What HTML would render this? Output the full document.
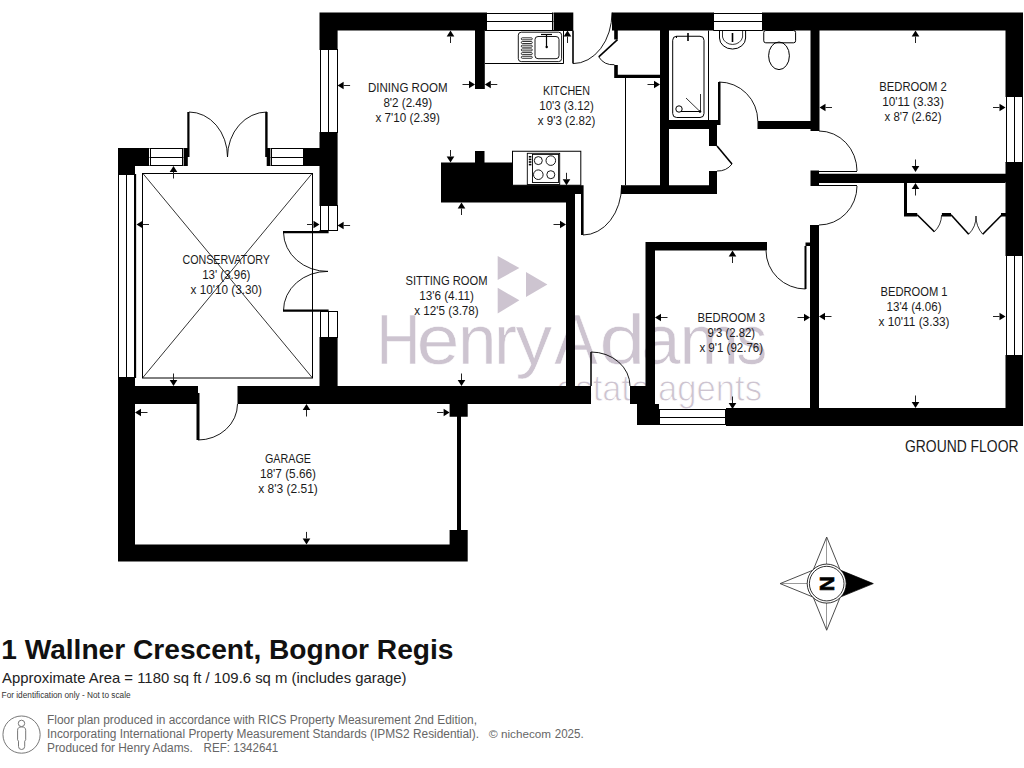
<!DOCTYPE html>
<html><head><meta charset="utf-8"><title>1 Wallner Crescent, Bognor Regis - Floor Plan</title>
<style>
html,body{margin:0;padding:0;background:#fff;}
body{width:1024px;height:768px;overflow:hidden;position:relative;font-family:"Liberation Sans",sans-serif;}
svg{position:absolute;left:0;top:0;}
svg text{font-family:"Liberation Sans",sans-serif;}
.t{position:absolute;white-space:nowrap;margin:0;}
</style></head><body>
<svg width="1024" height="768" viewBox="0 0 1024 768">
<text x="0" y="364" transform="matrix(0.8585 0 0 1 376.41 0)" font-size="71" fill="#cdc4d0" stroke="#fff" stroke-width="0.6">H</text>
<text x="0" y="364" transform="matrix(1.0912 0 0 1 416.53 0)" font-size="71" fill="#cdc4d0" stroke="#fff" stroke-width="0.6">e</text>
<text x="0" y="364" transform="matrix(0.9742 0 0 1 457.90 0)" font-size="71" fill="#cdc4d0" stroke="#fff" stroke-width="0.6">n</text>
<text x="0" y="364" transform="matrix(0.9737 0 0 1 494.11 0)" font-size="71" fill="#cdc4d0" stroke="#fff" stroke-width="0.6">r</text>
<text x="0" y="364" transform="matrix(1.0306 0 0 1 515.50 0)" font-size="71" fill="#cdc4d0" stroke="#fff" stroke-width="0.6">y</text>
<text x="0" y="364" transform="matrix(0.9167 0 0 1 554.30 0)" font-size="71" fill="#cdc4d0" stroke="#fff" stroke-width="0.6">A</text>
<text x="0" y="364" transform="matrix(1.1697 0 0 1 599.26 0)" font-size="71" fill="#cdc4d0" stroke="#fff" stroke-width="0.6">d</text>
<text x="0" y="364" transform="matrix(0.9865 0 0 1 641.54 0)" font-size="71" fill="#cdc4d0" stroke="#fff" stroke-width="0.6">a</text>
<text x="0" y="364" transform="matrix(1.0118 0 0 1 679.15 0)" font-size="71" fill="#cdc4d0" stroke="#fff" stroke-width="0.6">m</text>
<text x="0" y="364" transform="matrix(0.8719 0 0 1 736.13 0)" font-size="71" fill="#cdc4d0" stroke="#fff" stroke-width="0.6">s</text>
<text x="556.5" y="400.5" font-size="37" fill="#cdc4d0" stroke="#fff" stroke-width="0.9" textLength="93.5" lengthAdjust="spacingAndGlyphs">estate</text>
<text x="658" y="400.5" font-size="37" fill="#cdc4d0" stroke="#fff" stroke-width="0.9" textLength="104" lengthAdjust="spacingAndGlyphs">agents</text>
<path d="M497.7 255.9 L519.4 268 L497.7 280.1 Z" fill="#cdc4d0"/>
<path d="M526 271.9 L547.4 284.5 L526 297 Z" fill="#cdc4d0"/>
<path d="M497.7 287.8 L519.4 300.3 L497.7 313.4 Z" fill="#cdc4d0"/>
<rect x="142.5" y="173.5" width="170" height="204.5" fill="none" stroke="#000" stroke-width="1"/>
<line x1="142.5" y1="173" x2="312.5" y2="378" stroke="#000" stroke-width="0.8"/>
<line x1="312.5" y1="173" x2="142.5" y2="378" stroke="#000" stroke-width="0.8"/>
<path fill="#000" d="M118 148H149V166H118ZM183.4 148H187.8V166H183.4ZM266.7 148H270.6V166H266.7ZM304 148H337.6V166H304ZM187.3 112H189.5V157H187.3ZM265.2 112H267.6V157H265.2ZM118 148H135V174H118ZM118 377.5H135V561.5H118ZM118 386H198V404H118ZM237.5 386H591V404H237.5ZM196.5 393H199.5V440H196.5ZM118 544.4H467.7V561.5H118ZM449.6 404H467.7V416.8H449.6ZM449.6 530H467.7V561.5H449.6ZM457 416.8H461V530H457ZM319.5 12.5H337.6V49H319.5ZM319.5 133H337.6V205H319.5ZM319.5 338H337.6V386H319.5ZM283 231H328.6V233.2H283ZM283 309.5H328.6V311.7H283ZM319.5 12.5H486V30.5H319.5ZM475 30.5H484.8V89.1H475ZM553.4 12.5H573.3V30.5H553.4ZM612 12.5H713.3V30.5H612ZM614.2 30.5H617.8V39.6H614.2ZM614.2 65.1H617.8V78H614.2ZM614.2 74.7H660V78H614.2ZM660 30.5H669V194H660ZM669 120H717V129H669ZM708.6 120H720.5V125H708.6ZM709 129H717V146H709ZM709 171H717V194H709ZM621 185.3H717V194H621ZM762.8 12.5H1023V30.5H762.8ZM718 82H720.5V121H718ZM757.5 121H810.5V129H757.5ZM810.5 30.5H819.5V131H810.5ZM1005.5 12.5H1023V96H1005.5ZM1005.5 162.5H1023V255H1005.5ZM1005.5 356H1023V426H1005.5ZM810.5 170.5H819V186H810.5ZM819 173.75H1005.5V183H819ZM904 183H907V216.6H904ZM904 212.9H917.2V216.6H904ZM941.9 212.9H951V216.6H941.9ZM1001 212.9H1005.5V216.6H1001ZM810 225H819V408H810ZM805.5 242.5H810V246H805.5ZM804.5 246H806.5V289H804.5ZM645.5 242H767V250.5H645.5ZM645.5 242H655V386H645.5ZM630 386H655V404H630ZM637 404H659V425H637ZM726 408H1023V426H726ZM441 162.5H512.5V202.5H441ZM475 151H484.5V162.5H475ZM512.5 185.3H575V202.5H512.5ZM566 202.5H575V386H566ZM575 185.3H583.6V194H575ZM581 194H583.6V235H581Z"/>
<rect x="149.5" y="148" width="33.9" height="18" fill="#fff"/>
<line x1="149.5" y1="148.5" x2="183.4" y2="148.5" stroke="#000" stroke-width="1"/>
<line x1="149.5" y1="157.5" x2="183.4" y2="157.5" stroke="#000" stroke-width="1"/>
<line x1="149.5" y1="165.5" x2="183.4" y2="165.5" stroke="#000" stroke-width="1"/>
<line x1="150.5" y1="148" x2="150.5" y2="166" stroke="#000" stroke-width="1"/>
<line x1="182.5" y1="148" x2="182.5" y2="166" stroke="#000" stroke-width="1"/>
<rect x="270.6" y="148" width="33.4" height="18" fill="#fff"/>
<line x1="270.6" y1="148.5" x2="304" y2="148.5" stroke="#000" stroke-width="1"/>
<line x1="270.6" y1="157.5" x2="304" y2="157.5" stroke="#000" stroke-width="1"/>
<line x1="270.6" y1="165.5" x2="304" y2="165.5" stroke="#000" stroke-width="1"/>
<line x1="271.5" y1="148" x2="271.5" y2="166" stroke="#000" stroke-width="1"/>
<line x1="303.5" y1="148" x2="303.5" y2="166" stroke="#000" stroke-width="1"/>
<path d="M189 112 A38.5 45 0 0 1 227.5 157" stroke="#000" stroke-width="0.9" fill="none"/>
<path d="M267 112 A39.5 45 0 0 0 227.5 157" stroke="#000" stroke-width="0.9" fill="none"/>
<rect x="118" y="174" width="17" height="203.5" fill="#fff"/>
<line x1="118.5" y1="174" x2="118.5" y2="377.5" stroke="#000" stroke-width="1"/>
<line x1="126.5" y1="174" x2="126.5" y2="377.5" stroke="#000" stroke-width="1"/>
<line x1="134.5" y1="174" x2="134.5" y2="377.5" stroke="#000" stroke-width="1"/>
<line x1="118" y1="174.5" x2="135" y2="174.5" stroke="#000" stroke-width="1"/>
<line x1="118" y1="377.5" x2="135" y2="377.5" stroke="#000" stroke-width="1"/>
<line x1="135.5" y1="174" x2="135.5" y2="378" stroke="#000" stroke-width="1.3"/>
<path d="M198 440 A39.5 36 0 0 0 237.5 404" stroke="#000" stroke-width="0.9" fill="none"/>
<rect x="319.5" y="49" width="18.1" height="84" fill="#fff"/>
<line x1="320.5" y1="49" x2="320.5" y2="133" stroke="#000" stroke-width="1"/>
<line x1="328.5" y1="49" x2="328.5" y2="133" stroke="#000" stroke-width="1"/>
<line x1="337.5" y1="49" x2="337.5" y2="133" stroke="#000" stroke-width="1"/>
<line x1="319.5" y1="49.5" x2="337.6" y2="49.5" stroke="#000" stroke-width="1"/>
<line x1="319.5" y1="132.5" x2="337.6" y2="132.5" stroke="#000" stroke-width="1"/>
<rect x="319.5" y="205" width="18.1" height="26" fill="#fff"/>
<line x1="320.5" y1="205" x2="320.5" y2="231" stroke="#000" stroke-width="1"/>
<line x1="328.5" y1="205" x2="328.5" y2="231" stroke="#000" stroke-width="1"/>
<line x1="337.5" y1="205" x2="337.5" y2="231" stroke="#000" stroke-width="1"/>
<line x1="319.5" y1="205.5" x2="337.6" y2="205.5" stroke="#000" stroke-width="1"/>
<line x1="319.5" y1="230.5" x2="337.6" y2="230.5" stroke="#000" stroke-width="1"/>
<rect x="319.5" y="311" width="18.1" height="27" fill="#fff"/>
<line x1="320.5" y1="311" x2="320.5" y2="338" stroke="#000" stroke-width="1"/>
<line x1="328.5" y1="311" x2="328.5" y2="338" stroke="#000" stroke-width="1"/>
<line x1="337.5" y1="311" x2="337.5" y2="338" stroke="#000" stroke-width="1"/>
<line x1="319.5" y1="311.5" x2="337.6" y2="311.5" stroke="#000" stroke-width="1"/>
<line x1="319.5" y1="337.5" x2="337.6" y2="337.5" stroke="#000" stroke-width="1"/>
<path d="M283.5 232.5 A44 39.5 0 0 0 328 271.4" stroke="#000" stroke-width="0.9" fill="none"/>
<path d="M283.5 310.5 A44 39 0 0 1 328 271.4" stroke="#000" stroke-width="0.9" fill="none"/>
<line x1="312.5" y1="231" x2="312.5" y2="311" stroke="#000" stroke-width="1"/>
<rect x="486" y="12.5" width="67.4" height="18.0" fill="#fff"/>
<line x1="486" y1="13.5" x2="553.4" y2="13.5" stroke="#000" stroke-width="1"/>
<line x1="486" y1="21.5" x2="553.4" y2="21.5" stroke="#000" stroke-width="1"/>
<line x1="486" y1="30.5" x2="553.4" y2="30.5" stroke="#000" stroke-width="1"/>
<line x1="486.5" y1="12.5" x2="486.5" y2="30.5" stroke="#000" stroke-width="1"/>
<line x1="552.5" y1="12.5" x2="552.5" y2="30.5" stroke="#000" stroke-width="1"/>
<line x1="485" y1="30.5" x2="573" y2="30.5" stroke="#000" stroke-width="1"/>
<line x1="485" y1="63.5" x2="563.6" y2="63.5" stroke="#000" stroke-width="1"/>
<line x1="563.5" y1="30.5" x2="563.5" y2="63.6" stroke="#000" stroke-width="1"/>
<line x1="573" y1="30.5" x2="573" y2="63.6" stroke="#000" stroke-width="1.6"/>
<rect x="518.3" y="32.2" width="43.3" height="29.4" rx="3" fill="none" stroke="#000" stroke-width="0.9"/>
<rect x="535" y="36.5" width="24" height="22.2" rx="3" fill="none" stroke="#000" stroke-width="0.9"/>
<rect x="521.3" y="37.8" width="11" height="2" rx="1" fill="none" stroke="#000" stroke-width="0.8"/>
<rect x="521.3" y="41.5" width="11" height="2" rx="1" fill="none" stroke="#000" stroke-width="0.8"/>
<rect x="521.3" y="45.199999999999996" width="11" height="2" rx="1" fill="none" stroke="#000" stroke-width="0.8"/>
<rect x="521.3" y="48.9" width="11" height="2" rx="1" fill="none" stroke="#000" stroke-width="0.8"/>
<rect x="521.3" y="52.599999999999994" width="11" height="2" rx="1" fill="none" stroke="#000" stroke-width="0.8"/>
<rect x="521.3" y="56.3" width="11" height="2" rx="1" fill="none" stroke="#000" stroke-width="0.8"/>
<line x1="546.5" y1="34" x2="546.5" y2="47" stroke="#000" stroke-width="1.2"/>
<circle cx="546.7" cy="47" r="1.2" fill="#000"/>
<line x1="541" y1="34.5" x2="552" y2="34.5" stroke="#000" stroke-width="1.2"/>
<path d="M573 63.6 A39 51 0 0 0 612 12.5" stroke="#000" stroke-width="0.9" fill="none"/>
<path d="M617.5 39.7 L598.75 56.9" stroke="#000" stroke-width="1.6" fill="none"/>
<path d="M598.75 56.9 A17 17 0 0 0 614.4 64.7" stroke="#000" stroke-width="0.9" fill="none"/>
<line x1="625.5" y1="78" x2="625.5" y2="185.3" stroke="#000" stroke-width="1"/>
<rect x="672.7" y="36.25" width="31.3" height="81.25" rx="4" fill="none" stroke="#000" stroke-width="1"/>
<line x1="708.5" y1="30.5" x2="708.5" y2="120" stroke="#000" stroke-width="1"/>
<line x1="676.5" y1="36" x2="676.5" y2="38" stroke="#000" stroke-width="1"/>
<path d="M688 33 L688 41" stroke="#000" stroke-width="1.6"/>
<circle cx="679" cy="109" r="3.2" fill="none" stroke="#000" stroke-width="1"/>
<line x1="681" y1="111.5" x2="700" y2="111.5" stroke="#000" stroke-width="1"/>
<line x1="700" y1="111.5" x2="686" y2="98" stroke="#000" stroke-width="0.8"/>
<line x1="700.5" y1="111.5" x2="700.5" y2="94" stroke="#000" stroke-width="0.8"/>
<circle cx="700" cy="111.5" r="1.3" fill="#000"/>
<path d="M717 146 L732 164" stroke="#000" stroke-width="1.6" fill="none"/>
<path d="M732 164 A18 18 0 0 1 717 171" stroke="#000" stroke-width="0.9" fill="none"/>
<rect x="713.3" y="12.5" width="49.5" height="18.0" fill="#fff"/>
<line x1="713.3" y1="13.5" x2="762.8" y2="13.5" stroke="#000" stroke-width="1"/>
<line x1="713.3" y1="21.5" x2="762.8" y2="21.5" stroke="#000" stroke-width="1"/>
<line x1="713.3" y1="30.5" x2="762.8" y2="30.5" stroke="#000" stroke-width="1"/>
<line x1="713.5" y1="12.5" x2="713.5" y2="30.5" stroke="#000" stroke-width="1"/>
<line x1="762.5" y1="12.5" x2="762.5" y2="30.5" stroke="#000" stroke-width="1"/>
<path d="M719.5 30.5 L719.5 38 A13 11 0 0 0 745.6 38 L745.6 30.5" stroke="#000" stroke-width="1" fill="none"/>
<path d="M722.5 30.5 L722.5 37 A10.2 9 0 0 0 742.6 37 L742.6 30.5" stroke="#000" stroke-width="0.8" fill="none"/>
<line x1="732.5" y1="33" x2="732.5" y2="42" stroke="#000" stroke-width="1.6"/>
<rect x="763.75" y="30.5" width="31.85" height="12.3" rx="2" fill="none" stroke="#000" stroke-width="1"/>
<ellipse cx="779" cy="55.8" rx="10.4" ry="13.8" fill="none" stroke="#000" stroke-width="1"/>
<path d="M719 82 A38.8 39 0 0 1 757.8 121" stroke="#000" stroke-width="0.9" fill="none"/>
<path d="M819 131 A38 40 0 0 1 857 171" stroke="#000" stroke-width="0.9" fill="none"/>
<rect x="1005.5" y="96" width="17.5" height="66.5" fill="#fff"/>
<line x1="1006.5" y1="96" x2="1006.5" y2="162.5" stroke="#000" stroke-width="1"/>
<line x1="1014.5" y1="96" x2="1014.5" y2="162.5" stroke="#000" stroke-width="1"/>
<line x1="1022.5" y1="96" x2="1022.5" y2="162.5" stroke="#000" stroke-width="1"/>
<line x1="1005.5" y1="96.5" x2="1023" y2="96.5" stroke="#000" stroke-width="1"/>
<line x1="1005.5" y1="162.5" x2="1023" y2="162.5" stroke="#000" stroke-width="1"/>
<rect x="1005.5" y="255" width="17.5" height="101" fill="#fff"/>
<line x1="1006.5" y1="255" x2="1006.5" y2="356" stroke="#000" stroke-width="1"/>
<line x1="1014.5" y1="255" x2="1014.5" y2="356" stroke="#000" stroke-width="1"/>
<line x1="1022.5" y1="255" x2="1022.5" y2="356" stroke="#000" stroke-width="1"/>
<line x1="1005.5" y1="255.5" x2="1023" y2="255.5" stroke="#000" stroke-width="1"/>
<line x1="1005.5" y1="355.5" x2="1023" y2="355.5" stroke="#000" stroke-width="1"/>
<line x1="819" y1="171.5" x2="857" y2="171.5" stroke="#000" stroke-width="1"/>
<line x1="819" y1="185.5" x2="857" y2="185.5" stroke="#000" stroke-width="1"/>
<path d="M857 186 A38 39 0 0 1 819 225" stroke="#000" stroke-width="0.9" fill="none"/>
<path d="M917.2 214.7 L934.4 231.7" stroke="#000" stroke-width="1.6" fill="none"/>
<path d="M934.4 231.7 A24.2 24.2 0 0 0 941.6 215" stroke="#000" stroke-width="0.8" fill="none"/>
<path d="M951 214.7 L968.7 234.2" stroke="#000" stroke-width="1.6" fill="none"/>
<path d="M968.7 234.2 A25 25 0 0 0 976 216" stroke="#000" stroke-width="0.8" fill="none"/>
<path d="M976 216 A27 27 0 0 0 982.7 234.2" stroke="#000" stroke-width="0.8" fill="none"/>
<path d="M982.7 234.2 L1002 214.7" stroke="#000" stroke-width="1.6" fill="none"/>
<path d="M766 250.5 A39.5 38.5 0 0 0 805.5 289" stroke="#000" stroke-width="0.9" fill="none"/>
<rect x="659" y="409" width="67" height="16" fill="#fff"/>
<line x1="659" y1="409.5" x2="726" y2="409.5" stroke="#000" stroke-width="1"/>
<line x1="659" y1="417.5" x2="726" y2="417.5" stroke="#000" stroke-width="1"/>
<line x1="659" y1="424.5" x2="726" y2="424.5" stroke="#000" stroke-width="1"/>
<line x1="659.5" y1="409" x2="659.5" y2="425" stroke="#000" stroke-width="1"/>
<line x1="725.5" y1="409" x2="725.5" y2="425" stroke="#000" stroke-width="1"/>
<path d="M583 235 A38.6 49.6 0 0 0 621.6 185.3" stroke="#000" stroke-width="0.9" fill="none"/>
<rect x="512.5" y="151.25" width="68.3" height="34" fill="none" stroke="#000" stroke-width="1"/>
<rect x="527.3" y="153.3" width="32.4" height="31.2" fill="none" stroke="#000" stroke-width="0.9"/>
<rect x="532.5" y="154.4" width="26.1" height="28.1" fill="none" stroke="#000" stroke-width="0.9"/>
<circle cx="538.3" cy="160.6" r="4" fill="none" stroke="#000" stroke-width="0.9"/>
<circle cx="550.8" cy="160.6" r="4.8" fill="none" stroke="#000" stroke-width="0.9"/>
<circle cx="538.3" cy="174.7" r="4.8" fill="none" stroke="#000" stroke-width="0.9"/>
<circle cx="550.8" cy="174.7" r="4" fill="none" stroke="#000" stroke-width="0.9"/>
<rect x="528.8" y="156.0" width="2.6" height="1.6" fill="#000"/>
<rect x="528.8" y="158.6" width="2.6" height="1.6" fill="#000"/>
<rect x="528.8" y="161.2" width="2.6" height="1.6" fill="#000"/>
<rect x="528.8" y="163.8" width="2.6" height="1.6" fill="#000"/>
<line x1="591" y1="352" x2="591" y2="386" stroke="#000" stroke-width="1.5"/>
<path d="M591 352 A39 34 0 0 1 630 386" stroke="#000" stroke-width="0.9" fill="none"/>
<path d="M450.5 30.5 L446.7 36.5 L454.3 36.5Z" fill="#000"/>
<line x1="450.5" y1="36.5" x2="450.5" y2="43.0" stroke="#222" stroke-width="1"/>
<path d="M337.6 85.5 L343.6 81.7 L343.6 89.3Z" fill="#000"/>
<line x1="343.6" y1="85.5" x2="350.1" y2="85.5" stroke="#222" stroke-width="1"/>
<path d="M475 84.5 L469 80.7 L469 88.3Z" fill="#000"/>
<line x1="462.5" y1="84.5" x2="469" y2="84.5" stroke="#222" stroke-width="1"/>
<path d="M484.8 84.5 L490.8 80.7 L490.8 88.3Z" fill="#000"/>
<line x1="490.8" y1="84.5" x2="497.3" y2="84.5" stroke="#222" stroke-width="1"/>
<path d="M450.5 162.5 L446.7 156.5 L454.3 156.5Z" fill="#000"/>
<line x1="450.5" y1="156.5" x2="450.5" y2="150.0" stroke="#222" stroke-width="1"/>
<path d="M567.5 30.5 L563.7 36.5 L571.3 36.5Z" fill="#000"/>
<line x1="567.5" y1="36.5" x2="567.5" y2="43.0" stroke="#222" stroke-width="1"/>
<path d="M660 84.5 L654 80.7 L654 88.3Z" fill="#000"/>
<line x1="647.5" y1="84.5" x2="654" y2="84.5" stroke="#222" stroke-width="1"/>
<path d="M566.5 185.3 L562.7 179.3 L570.3 179.3Z" fill="#000"/>
<line x1="566.5" y1="179.3" x2="566.5" y2="172.8" stroke="#222" stroke-width="1"/>
<path d="M915.5 30.5 L911.7 36.5 L919.3 36.5Z" fill="#000"/>
<line x1="915.5" y1="36.5" x2="915.5" y2="43.0" stroke="#222" stroke-width="1"/>
<path d="M819.5 107.5 L825.5 103.7 L825.5 111.3Z" fill="#000"/>
<line x1="825.5" y1="107.5" x2="832.0" y2="107.5" stroke="#222" stroke-width="1"/>
<path d="M1005.5 107.5 L999.5 103.7 L999.5 111.3Z" fill="#000"/>
<line x1="993.0" y1="107.5" x2="999.5" y2="107.5" stroke="#222" stroke-width="1"/>
<path d="M915.5 172 L911.7 166 L919.3 166Z" fill="#000"/>
<line x1="915.5" y1="166" x2="915.5" y2="159.5" stroke="#222" stroke-width="1"/>
<path d="M173.5 166 L169.7 172 L177.3 172Z" fill="#000"/>
<line x1="173.5" y1="172" x2="173.5" y2="178.5" stroke="#222" stroke-width="1"/>
<path d="M136.5 224.5 L142.5 220.7 L142.5 228.3Z" fill="#000"/>
<line x1="142.5" y1="224.5" x2="149.0" y2="224.5" stroke="#222" stroke-width="1"/>
<path d="M319.5 224.5 L313.5 220.7 L313.5 228.3Z" fill="#000"/>
<line x1="307.0" y1="224.5" x2="313.5" y2="224.5" stroke="#222" stroke-width="1"/>
<path d="M173.5 386 L169.7 380 L177.3 380Z" fill="#000"/>
<line x1="173.5" y1="380" x2="173.5" y2="373.5" stroke="#222" stroke-width="1"/>
<path d="M461.5 202.5 L457.7 208.5 L465.3 208.5Z" fill="#000"/>
<line x1="461.5" y1="208.5" x2="461.5" y2="215.0" stroke="#222" stroke-width="1"/>
<path d="M337.6 225.5 L343.6 221.7 L343.6 229.3Z" fill="#000"/>
<line x1="343.6" y1="225.5" x2="350.1" y2="225.5" stroke="#222" stroke-width="1"/>
<path d="M566 224.5 L560 220.7 L560 228.3Z" fill="#000"/>
<line x1="553.5" y1="224.5" x2="560" y2="224.5" stroke="#222" stroke-width="1"/>
<path d="M461.5 386 L457.7 380 L465.3 380Z" fill="#000"/>
<line x1="461.5" y1="380" x2="461.5" y2="373.5" stroke="#222" stroke-width="1"/>
<path d="M915.5 183 L911.7 189 L919.3 189Z" fill="#000"/>
<line x1="915.5" y1="189" x2="915.5" y2="195.5" stroke="#222" stroke-width="1"/>
<path d="M819 316.5 L825 312.7 L825 320.3Z" fill="#000"/>
<line x1="825" y1="316.5" x2="831.5" y2="316.5" stroke="#222" stroke-width="1"/>
<path d="M1005.5 316.5 L999.5 312.7 L999.5 320.3Z" fill="#000"/>
<line x1="993.0" y1="316.5" x2="999.5" y2="316.5" stroke="#222" stroke-width="1"/>
<path d="M915.5 408 L911.7 402 L919.3 402Z" fill="#000"/>
<line x1="915.5" y1="402" x2="915.5" y2="395.5" stroke="#222" stroke-width="1"/>
<path d="M732.5 250.5 L728.7 256.5 L736.3 256.5Z" fill="#000"/>
<line x1="732.5" y1="256.5" x2="732.5" y2="263.0" stroke="#222" stroke-width="1"/>
<path d="M655 317.5 L661 313.7 L661 321.3Z" fill="#000"/>
<line x1="661" y1="317.5" x2="667.5" y2="317.5" stroke="#222" stroke-width="1"/>
<path d="M810 317.5 L804 313.7 L804 321.3Z" fill="#000"/>
<line x1="797.5" y1="317.5" x2="804" y2="317.5" stroke="#222" stroke-width="1"/>
<path d="M732.5 409 L728.7 403 L736.3 403Z" fill="#000"/>
<line x1="732.5" y1="403" x2="732.5" y2="396.5" stroke="#222" stroke-width="1"/>
<path d="M306.5 404 L302.7 410 L310.3 410Z" fill="#000"/>
<line x1="306.5" y1="410" x2="306.5" y2="416.5" stroke="#222" stroke-width="1"/>
<path d="M135 412.5 L141 408.7 L141 416.3Z" fill="#000"/>
<line x1="141" y1="412.5" x2="147.5" y2="412.5" stroke="#222" stroke-width="1"/>
<path d="M449.6 412.5 L443.6 408.7 L443.6 416.3Z" fill="#000"/>
<line x1="437.1" y1="412.5" x2="443.6" y2="412.5" stroke="#222" stroke-width="1"/>
<path d="M306.5 544.4 L302.7 538.4 L310.3 538.4Z" fill="#000"/>
<line x1="306.5" y1="538.4" x2="306.5" y2="531.9" stroke="#222" stroke-width="1"/>
<text x="407.75" y="91.7" text-anchor="middle" textLength="79.5" lengthAdjust="spacingAndGlyphs" font-size="12.6" fill="#1a1a1a">DINING ROOM</text>
<text x="407.75" y="106.7" text-anchor="middle" textLength="48.75" lengthAdjust="spacingAndGlyphs" font-size="12.6" fill="#1a1a1a">8'2 (2.49)</text>
<text x="407.75" y="121.7" text-anchor="middle" textLength="64.5" lengthAdjust="spacingAndGlyphs" font-size="12.6" fill="#1a1a1a">x 7'10 (2.39)</text>
<text x="566.5" y="94.7" text-anchor="middle" textLength="47" lengthAdjust="spacingAndGlyphs" font-size="12.6" fill="#1a1a1a">KITCHEN</text>
<text x="566.5" y="109.7" text-anchor="middle" textLength="54.5" lengthAdjust="spacingAndGlyphs" font-size="12.6" fill="#1a1a1a">10'3 (3.12)</text>
<text x="566.5" y="124.7" text-anchor="middle" textLength="57.5" lengthAdjust="spacingAndGlyphs" font-size="12.6" fill="#1a1a1a">x 9'3 (2.82)</text>
<text x="913" y="91.2" text-anchor="middle" textLength="67.5" lengthAdjust="spacingAndGlyphs" font-size="12.6" fill="#1a1a1a">BEDROOM 2</text>
<text x="913" y="106.2" text-anchor="middle" textLength="61.75" lengthAdjust="spacingAndGlyphs" font-size="12.6" fill="#1a1a1a">10'11 (3.33)</text>
<text x="913" y="121.2" text-anchor="middle" textLength="57" lengthAdjust="spacingAndGlyphs" font-size="12.6" fill="#1a1a1a">x 8'7 (2.62)</text>
<text x="226.25" y="264.2" text-anchor="middle" textLength="87.5" lengthAdjust="spacingAndGlyphs" font-size="12.6" fill="#1a1a1a">CONSERVATORY</text>
<text x="226.25" y="279.2" text-anchor="middle" textLength="48.25" lengthAdjust="spacingAndGlyphs" font-size="12.6" fill="#1a1a1a">13' (3.96)</text>
<text x="226.25" y="294.2" text-anchor="middle" textLength="71.5" lengthAdjust="spacingAndGlyphs" font-size="12.6" fill="#1a1a1a">x 10'10 (3.30)</text>
<text x="446.5" y="284.7" text-anchor="middle" textLength="82" lengthAdjust="spacingAndGlyphs" font-size="12.6" fill="#1a1a1a">SITTING ROOM</text>
<text x="446.5" y="299.7" text-anchor="middle" textLength="54.75" lengthAdjust="spacingAndGlyphs" font-size="12.6" fill="#1a1a1a">13'6 (4.11)</text>
<text x="446.5" y="314.7" text-anchor="middle" textLength="64.5" lengthAdjust="spacingAndGlyphs" font-size="12.6" fill="#1a1a1a">x 12'5 (3.78)</text>
<text x="914" y="296.2" text-anchor="middle" textLength="67" lengthAdjust="spacingAndGlyphs" font-size="12.6" fill="#1a1a1a">BEDROOM 1</text>
<text x="914" y="311.2" text-anchor="middle" textLength="55" lengthAdjust="spacingAndGlyphs" font-size="12.6" fill="#1a1a1a">13'4 (4.06)</text>
<text x="914" y="326.2" text-anchor="middle" textLength="71" lengthAdjust="spacingAndGlyphs" font-size="12.6" fill="#1a1a1a">x 10'11 (3.33)</text>
<text x="731.25" y="321.7" text-anchor="middle" textLength="67.5" lengthAdjust="spacingAndGlyphs" font-size="12.6" fill="#1a1a1a">BEDROOM 3</text>
<text x="731.25" y="336.7" text-anchor="middle" textLength="47.5" lengthAdjust="spacingAndGlyphs" font-size="12.6" fill="#1a1a1a">9'3 (2.82)</text>
<text x="731.25" y="351.7" text-anchor="middle" textLength="63.75" lengthAdjust="spacingAndGlyphs" font-size="12.6" fill="#1a1a1a">x 9'1 (92.76)</text>
<text x="288" y="462.7" text-anchor="middle" textLength="46" lengthAdjust="spacingAndGlyphs" font-size="12.6" fill="#1a1a1a">GARAGE</text>
<text x="288" y="477.7" text-anchor="middle" textLength="56" lengthAdjust="spacingAndGlyphs" font-size="12.6" fill="#1a1a1a">18'7 (5.66)</text>
<text x="288" y="492.7" text-anchor="middle" textLength="59.7" lengthAdjust="spacingAndGlyphs" font-size="12.6" fill="#1a1a1a">x 8'3 (2.51)</text>
<text x="905" y="452" textLength="113.5" lengthAdjust="spacingAndGlyphs" font-size="16.5" fill="#1a1a1a">GROUND FLOOR</text>
<path d="M826.7 537.0 L813.2 570.1 L840.2 570.1 Z" fill="#fff" stroke="#000" stroke-width="0.7"/>
<path d="M826.7 630.2 L813.2 597.1 L840.2 597.1 Z" fill="#fff" stroke="#000" stroke-width="0.7"/>
<path d="M780.1 583.6 L813.2 570.1 L813.2 597.1 Z" fill="#fff" stroke="#000" stroke-width="0.7"/>
<path d="M873.3000000000001 583.6 L840.2 570.1 L840.2 597.1 Z" fill="#000" stroke="#000" stroke-width="0.7"/>
<line x1="826.5" y1="537.0" x2="826.5" y2="583.6" stroke="#555" stroke-width="0.6"/>
<line x1="826.5" y1="630.2" x2="826.5" y2="583.6" stroke="#555" stroke-width="0.6"/>
<line x1="780.1" y1="583.5" x2="826.7" y2="583.5" stroke="#555" stroke-width="0.6"/>
<circle cx="826.7" cy="583.6" r="19.5" fill="#fff" stroke="#000" stroke-width="0.8"/>
<circle cx="826.7" cy="583.6" r="17.3" fill="#fff" stroke="#000" stroke-width="0.8"/>
<text x="0" y="0" transform="translate(826.7,583.6) rotate(-90)" text-anchor="middle" dominant-baseline="central" font-weight="bold" font-size="21" fill="#000" stroke="#000" stroke-width="0.6" style="font-family:'Liberation Sans',sans-serif">N</text>
<!-- footer -->
<text x="1.2" y="658.7" font-size="27.5" font-weight="bold" fill="#111" textLength="452.3" lengthAdjust="spacingAndGlyphs">1 Wallner Crescent, Bognor Regis</text>
<text x="2" y="682.7" font-size="14.3" fill="#222" textLength="404.5" lengthAdjust="spacingAndGlyphs">Approximate Area = 1180 sq ft / 109.6 sq m (includes garage)</text>
<text x="1.6" y="698" font-size="8.5" fill="#333" textLength="129" lengthAdjust="spacingAndGlyphs">For identification only - Not to scale</text>
<circle cx="21.55" cy="734.6" r="18.6" fill="none" stroke="#777" stroke-width="1"/>
<circle cx="21.5" cy="723.4" r="3.2" fill="none" stroke="#777" stroke-width="1"/>
<path d="M17.6 739.8 V730.2 Q17.6 726.9 21.65 726.9 Q25.7 726.9 25.7 730.2 V739.8 L24.7 741.2 V746.4 A3.1 3.1 0 0 1 18.5 746.4 V741.2 Z" fill="none" stroke="#777" stroke-width="1"/>
<text x="47" y="724" font-size="12.3" fill="#666" textLength="430" lengthAdjust="spacingAndGlyphs">Floor plan produced in accordance with RICS Property Measurement 2nd Edition,</text>
<text x="47" y="738" font-size="12.3" fill="#666" textLength="432" lengthAdjust="spacingAndGlyphs">Incorporating International Property Measurement Standards (IPMS2 Residential).</text>
<text x="47" y="752" font-size="12.3" fill="#666" textLength="145.8" lengthAdjust="spacingAndGlyphs">Produced for Henry Adams.</text>
<text x="203.6" y="752" font-size="12.3" fill="#666" textLength="74.7" lengthAdjust="spacingAndGlyphs">REF: 1342641</text>
<text x="488.8" y="737.8" font-size="11" fill="#666" textLength="9" lengthAdjust="spacingAndGlyphs">©</text>
<text x="501" y="737.8" font-size="11.6" fill="#666" textLength="50" lengthAdjust="spacingAndGlyphs">nichecom</text>
<text x="554.7" y="737.8" font-size="12.3" fill="#666" textLength="29" lengthAdjust="spacingAndGlyphs">2025.</text>
</svg>
</body></html>
